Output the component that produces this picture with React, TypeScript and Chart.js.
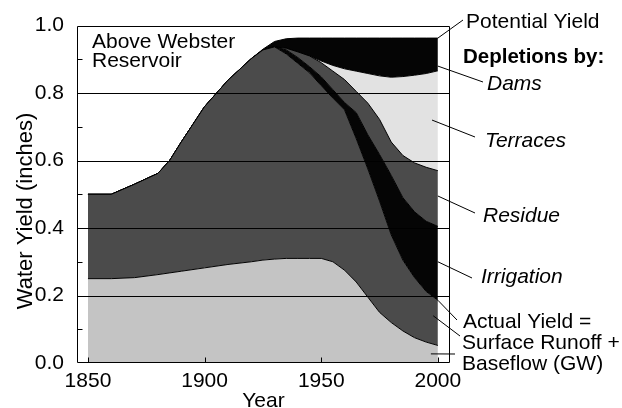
import React, { useEffect, useRef } from "react";
import { Chart, registerables } from "chart.js";

Chart.register(...registerables);

// ---- Data (cumulative layer boundaries, inches) ----
const years = [1850, 1860, 1870, 1880, 1885, 1890, 1900, 1910, 1920, 1925, 1930, 1935, 1940, 1945, 1950, 1955, 1960, 1965, 1970, 1975, 1980, 1985, 1990, 1995, 2000];

// Actual yield = baseflow (GW) + surface runoff
const baseflowTop = [0.25, 0.25, 0.253, 0.262, 0.267, 0.272, 0.282, 0.292, 0.3, 0.305, 0.308, 0.31, 0.31, 0.31, 0.31, 0.3, 0.275, 0.24, 0.195, 0.15, 0.12, 0.095, 0.075, 0.062, 0.052];
const runoffTop = [0.5, 0.5, 0.53, 0.562, 0.6, 0.655, 0.76, 0.838, 0.902, 0.928, 0.937, 0.916, 0.888, 0.86, 0.822, 0.785, 0.75, 0.665, 0.575, 0.48, 0.38, 0.305, 0.253, 0.212, 0.186];
// Depletions stacked above actual yield
const irrigationTop = [0.5, 0.5, 0.53, 0.562, 0.6, 0.655, 0.76, 0.838, 0.902, 0.928, 0.937, 0.928, 0.905, 0.878, 0.848, 0.81, 0.772, 0.742, 0.676, 0.618, 0.556, 0.49, 0.448, 0.42, 0.405];
const residueTop = [0.5, 0.5, 0.53, 0.562, 0.6, 0.655, 0.76, 0.838, 0.902, 0.928, 0.937, 0.933, 0.922, 0.91, 0.89, 0.865, 0.84, 0.805, 0.77, 0.722, 0.655, 0.615, 0.593, 0.58, 0.57];
const terracesTop = [0.5, 0.5, 0.53, 0.562, 0.6, 0.655, 0.76, 0.838, 0.902, 0.928, 0.937, 0.933, 0.922, 0.91, 0.895, 0.882, 0.872, 0.865, 0.858, 0.851, 0.847, 0.849, 0.853, 0.858, 0.866];
const potentialYield = [0.5, 0.5, 0.53, 0.562, 0.6, 0.655, 0.76, 0.838, 0.902, 0.93, 0.953, 0.961, 0.963, 0.963, 0.963, 0.963, 0.963, 0.963, 0.963, 0.963, 0.963, 0.963, 0.963, 0.963, 0.963];

const xTicks = [1850, 1900, 1950, 2000];
const yGridLines = [0.2, 0.4, 0.6, 0.8];
const yMinorTicks = [0.1, 0.3, 0.5, 0.7, 0.9];

const FONT = '"Liberation Sans", Arial, Helvetica, sans-serif';

const annotations = {
  id: "annotations",
  afterDatasetsDraw(chart: any) {
    const { ctx, chartArea: a, scales } = chart;
    const y = scales.y;
    ctx.save();
    ctx.strokeStyle = "#000";
    ctx.lineWidth = 1.2;
    ctx.beginPath();
    for (const v of yGridLines) {
      const py = Math.round(y.getPixelForValue(v)) + 0.5;
      ctx.moveTo(a.left, py);
      ctx.lineTo(a.right, py);
    }
    ctx.stroke();
    ctx.restore();
  },
  afterDraw(chart: any) {
    const { ctx, chartArea: a, scales } = chart;
    const x = scales.x;
    const y = scales.y;
    ctx.save();
    ctx.strokeStyle = "#000";
    ctx.lineWidth = 1;
    // frame
    const L = Math.round(a.left) + 0.5;
    const T = Math.round(a.top) + 0.5;
    const R = Math.round(a.right) - 0.5;
    const B = Math.round(a.bottom) - 0.5;
    ctx.beginPath();
    ctx.moveTo(L, T);
    ctx.lineTo(R, T);
    ctx.lineTo(R, B);
    ctx.lineTo(L, B);
    ctx.closePath();
    ctx.stroke();
    // minor y ticks (inward)
    ctx.beginPath();
    for (const v of yMinorTicks) {
      const py = Math.round(y.getPixelForValue(v)) + 0.5;
      ctx.moveTo(L, py);
      ctx.lineTo(L + 5, py);
    }
    // x ticks (inward)
    for (const v of xTicks) {
      const px = Math.round(x.getPixelForValue(v)) + 0.5;
      ctx.moveTo(px, B);
      ctx.lineTo(px, B - 5);
    }
    ctx.stroke();

    // leader lines from layers at the right edge to labels
    const leaders: [number, number, number, number][] = [
      [2000, 0.963, 463, 20],
      [2000, 0.88, 483, 82],
      [1997.5, 0.72, 475, 137],
      [2000, 0.495, 475, 213],
      [2000, 0.3, 472, 278],
      [2000, 0.186, 457, 320],
      [1998, 0.14, 460, 336],
      [1997, 0.027, 455, 354],
    ];
    ctx.beginPath();
    for (const [yr, val, ex, ey] of leaders) {
      ctx.moveTo(x.getPixelForValue(yr), y.getPixelForValue(val));
      ctx.lineTo(ex, ey);
    }
    ctx.stroke();

    // texts
    ctx.fillStyle = "#000";
    ctx.textBaseline = "alphabetic";
    ctx.textAlign = "left";
    ctx.font = `21px ${FONT}`;
    ctx.fillText("Above Webster", 92, 48);
    ctx.fillText("Reservoir", 92, 66.5);
    ctx.fillText("Potential Yield", 466, 28);
    ctx.font = `bold 20.5px ${FONT}`;
    ctx.fillText("Depletions by:", 463, 63);
    ctx.font = `italic 21px ${FONT}`;
    ctx.fillText("Dams", 487, 90);
    ctx.fillText("Terraces", 485, 146.5);
    ctx.fillText("Residue", 483, 221.5);
    ctx.fillText("Irrigation", 481, 283);
    ctx.font = `21px ${FONT}`;
    ctx.fillText("Actual Yield =", 463, 328);
    ctx.fillText("Surface Runoff +", 462, 349);
    ctx.fillText("Baseflow (GW)", 462, 370);
    ctx.textAlign = "center";
    ctx.fillText("Year", (a.left + a.right) / 2, 406.5);
    ctx.save();
    ctx.translate(32, 211);
    ctx.rotate(-Math.PI / 2);
    ctx.font = `22px ${FONT}`;
    ctx.fillText("Water Yield (inches)", 0, 0);
    ctx.restore();
    ctx.restore();
  },
};

function layer(label: string, values: number[], color: string, fill: any) {
  return {
    label,
    data: years.map((yr, i) => ({ x: yr, y: values[i] })),
    backgroundColor: color,
    borderColor: "#000",
    borderWidth: 1,
    pointRadius: 0,
    tension: 0,
    fill,
  };
}

export default function App() {
  const ref = useRef<HTMLCanvasElement>(null);
  useEffect(() => {
    const canvas = ref.current;
    if (!canvas) return;
    const chart = new Chart(canvas, {
      type: "line",
      data: {
        datasets: [
          layer("Baseflow (GW)", baseflowTop, "#c4c4c4", "origin"),
          layer("Surface Runoff", runoffTop, "#4b4b4b", "-1"),
          layer("Irrigation", irrigationTop, "#050505", "-1"),
          layer("Residue", residueTop, "#4b4b4b", "-1"),
          layer("Terraces", terracesTop, "#e2e2e2", "-1"),
          layer("Dams", potentialYield, "#050505", "-1"),
        ] as any,
      },
      options: {
        animation: false,
        responsive: false,
        maintainAspectRatio: false,
        layout: { padding: { left: 0, top: 25, right: 172, bottom: 0 } },
        plugins: { legend: { display: false }, tooltip: { enabled: false } },
        scales: {
          x: {
            type: "linear",
            min: 1845.3,
            max: 2005.2,
            afterBuildTicks: (s: any) => {
              s.ticks = xTicks.map((v) => ({ value: v }));
            },
            afterFit: (s: any) => {
              s.height = 45;
            },
            grid: { display: false, drawTicks: false },
            border: { display: false },
            ticks: {
              color: "#000",
              font: { family: FONT, size: 21 },
              padding: 6,
              maxRotation: 0,
              autoSkip: false,
              callback: (v: any) => String(v),
            },
          },
          y: {
            type: "linear",
            min: 0,
            max: 1,
            afterFit: (s: any) => {
              s.width = 77;
            },
            grid: { display: false, drawTicks: false },
            border: { display: false },
            ticks: {
              stepSize: 0.2,
              color: "#000",
              font: { family: FONT, size: 21 },
              padding: 13,
              callback: (v: any) => Number(v).toFixed(1),
            },
          },
        } as any,
      },
      plugins: [annotations],
    });
    return () => chart.destroy();
  }, []);
  return (
    <div style={{ position: "fixed", left: 0, top: 0, width: 622, height: 408, background: "#fff" }}>
      <canvas ref={ref} width={622} height={408} style={{ display: "block" }} />
    </div>
  );
}
